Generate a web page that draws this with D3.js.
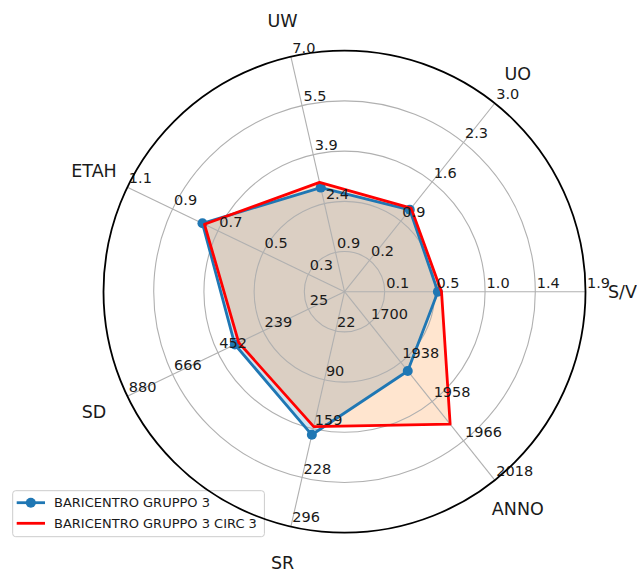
<!DOCTYPE html>
<html>
<head>
<meta charset="utf-8">
<script src="https://cdn.jsdelivr.net/npm/d3@7"></script>
<style>
  html, body { margin: 0; padding: 0; background: #ffffff; }
  svg { display: block; font-family: "DejaVu Sans", sans-serif; }
</style>
</head>
<body>
<svg id="chart" width="637" height="572"></svg>
<script>
// Radar axes, in drawing order (counter-clockwise from the right)
const variables = ["S/V", "UO", "UW", "ETAH", "SD", "SR", "ANNO"];

// Ring labels for each axis, innermost ring to outer ring
const ticksSV   = [0.1, 0.5, 1.0, 1.4, 1.9];
const ticksUO   = [0.2, 0.9, 1.6, 2.3, 3.0];
const ticksUW   = [0.9, 2.4, 3.9, 5.5, 7.0];
const ticksETAH = [0.3, 0.5, 0.7, 0.9, 1.1];
const ticksSD   = [25, 239, 452, 666, 880];
const ticksSR   = [22, 90, 159, 228, 296];
const ticksANNO = [1700, 1938, 1958, 1966, 2018];
const axisTicks = [ticksSV, ticksUO, ticksUW, ticksETAH, ticksSD, ticksSR, ticksANNO];

// Series values, one per axis
const seriesNames = ["BARICENTRO GRUPPO 3", "BARICENTRO GRUPPO 3 CIRC 3"];
const gruppo3     = [0.53, 1.10, 2.89, 0.768, 372, 167.5, 1942.4];
const gruppo3circ = [0.566, 1.13, 3.05, 0.759, 353.6, 156, 1962.6];

const svg = d3.select("#chart");
const cx = 344.5, cy = 291.7, R = 241;
const nRings = 5;
const ringR = d3.range(nRings).map(k => R * (k + 0.8) / (nRings - 0.2));

const angleOf = i => (2 * Math.PI * i) / variables.length;   // radians, CCW from east
const px = (a, r) => cx + r * Math.cos(a);
const py = (a, r) => cy - r * Math.sin(a);

// one radial scale per axis, passing through each ring label
const scales = axisTicks.map(t => d3.scaleLinear().domain(t).range(ringR));

const pointsOf = vals => vals.map((v, i) => {
  const a = angleOf(i), r = scales[i](v);
  return [px(a, r), py(a, r)];
});

const blue = "#1f77b4", orange = "#ff7f0e", red = "#ff0000", grid = "#b0b0b0";
const line = d3.line().curve(d3.curveLinearClosed);

const ptsA = pointsOf(gruppo3);
const ptsB = pointsOf(gruppo3circ);

// translucent fills
svg.append("path").attr("d", line(ptsA)).attr("fill", blue).attr("fill-opacity", 0.2).attr("stroke", "none");
svg.append("path").attr("d", line(ptsB)).attr("fill", orange).attr("fill-opacity", 0.2).attr("stroke", "none");

// grid: rings and spokes
const g = svg.append("g").attr("fill", "none").attr("stroke", grid).attr("stroke-width", 1.1);
ringR.slice(0, nRings - 1).forEach(r => g.append("circle").attr("cx", cx).attr("cy", cy).attr("r", r));
variables.forEach((_, i) => {
  const a = angleOf(i);
  g.append("line").attr("x1", cx).attr("y1", cy).attr("x2", px(a, R)).attr("y2", py(a, R));
});

// series outlines
svg.append("path").attr("d", line(ptsA)).attr("fill", "none").attr("stroke", blue)
  .attr("stroke-width", 2.8).attr("stroke-linejoin", "round");
svg.selectAll("circle.mk").data(ptsA).enter().append("circle").attr("class", "mk")
  .attr("cx", d => d[0]).attr("cy", d => d[1]).attr("r", 5).attr("fill", blue);
svg.append("path").attr("d", line(ptsB)).attr("fill", "none").attr("stroke", red)
  .attr("stroke-width", 2.8).attr("stroke-linejoin", "round");

// ring value labels along each axis
axisTicks.forEach((ticks, i) => {
  const a = angleOf(i);
  ticks.forEach((t, k) => {
    svg.append("text")
      .attr("x", px(a, ringR[k]) + 1.5)
      .attr("y", py(a, ringR[k]) - 4.2)
      .attr("font-size", 14.5).attr("fill", "#1a1a1a")
      .text(t.toFixed(Number.isInteger(t) && t > 10 ? 0 : 1));
  });
});

// axis names
variables.forEach((name, i) => {
  const a = angleOf(i);
  svg.append("text")
    .attr("x", px(a, R + 37)).attr("y", py(a, R + 37))
    .attr("text-anchor", "middle").attr("dominant-baseline", "central")
    .attr("font-size", 17.5).attr("fill", "#1a1a1a")
    .text(name);
});

// legend
const leg = svg.append("g");
const legX = 12.7, legY = 490.7, rowY = [502.7, 523.3], textX = 54;
const frame = leg.append("rect").attr("x", legX).attr("y", legY).attr("height", 46)
  .attr("rx", 3).attr("fill", "#ffffff").attr("fill-opacity", 0.8)
  .attr("stroke", "#cccccc").attr("stroke-width", 1);
leg.append("line").attr("x1", 16.7).attr("x2", 45).attr("y1", rowY[0]).attr("y2", rowY[0])
  .attr("stroke", blue).attr("stroke-width", 2.8);
leg.append("circle").attr("cx", 30.8).attr("cy", rowY[0]).attr("r", 5).attr("fill", blue);
leg.append("line").attr("x1", 16.7).attr("x2", 45).attr("y1", rowY[1]).attr("y2", rowY[1])
  .attr("stroke", red).attr("stroke-width", 2.8);
let maxW = 0;
seriesNames.forEach((s, i) => {
  const t = leg.append("text").attr("x", textX).attr("y", rowY[i])
    .attr("dominant-baseline", "central").attr("font-size", 13).attr("fill", "#1a1a1a").text(s);
  maxW = Math.max(maxW, t.node().getComputedTextLength());
});
frame.attr("width", textX + maxW + 7.5 - legX);

// outer frame circle
svg.append("circle").attr("cx", cx).attr("cy", cy).attr("r", R)
  .attr("fill", "none").attr("stroke", "#000000").attr("stroke-width", 1.8);
</script>
</body>
</html>
